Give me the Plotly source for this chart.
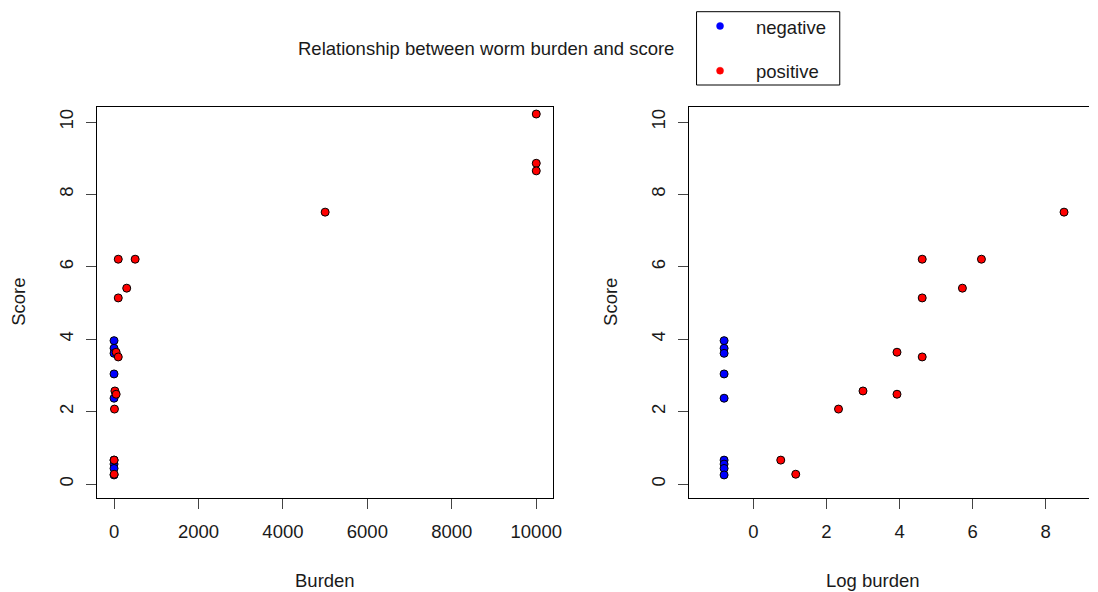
import plotly.graph_objects as go

W, H = 1098, 592

# ---- data ----
neg_burden = [0, 0, 0, 0, 0, 0, 0, 0, 0]
neg_log_burden = [-0.8, -0.8, -0.8, -0.8, -0.8, -0.8, -0.8, -0.8, -0.8]
neg_score = [3.96, 3.75, 3.61, 3.04, 2.37, 0.66, 0.55, 0.43, 0.25]

pos_burden = [2, 3, 10, 20, 50, 50, 100, 100, 100, 300, 500, 5000, 10000, 10000, 10000]
pos_log_burden = [0.75, 1.16, 2.33, 3.0, 3.93, 3.93, 4.62, 4.62, 4.62, 5.72, 6.24, 8.5, 9.21, 9.21, 9.21]
pos_score = [0.66, 0.27, 2.07, 2.57, 2.48, 3.64, 3.51, 5.14, 6.21, 5.41, 6.21, 7.51, 10.22, 8.86, 8.65]

x1_ticks = [0, 2000, 4000, 6000, 8000, 10000]
x2_ticks = [0, 2, 4, 6, 8]
y_ticks = [0, 2, 4, 6, 8, 10]

title_text = "Relationship between worm burden and score"
legend_labels = ["negative", "positive"]
colors = {"negative": "#0000FF", "positive": "#FF0000"}

FONT = "Liberation Sans, Arial, sans-serif"
FS = 18.5
TXT = "#1a1a1a"


def px(x):
    return x / W


def py(y):
    return 1 - y / H


def marker(c):
    return dict(color=c, size=8, line=dict(color="black", width=1))


fig = go.Figure()
fig.add_trace(go.Scatter(x=neg_burden, y=neg_score, mode="markers", marker=marker(colors["negative"]),
                         xaxis="x", yaxis="y", cliponaxis=False, showlegend=False))
fig.add_trace(go.Scatter(x=pos_burden, y=pos_score, mode="markers", marker=marker(colors["positive"]),
                         xaxis="x", yaxis="y", cliponaxis=False, showlegend=False))
fig.add_trace(go.Scatter(x=neg_log_burden, y=neg_score, mode="markers", marker=marker(colors["negative"]),
                         xaxis="x2", yaxis="y2", cliponaxis=False, showlegend=False))
fig.add_trace(go.Scatter(x=pos_log_burden, y=pos_score, mode="markers", marker=marker(colors["positive"]),
                         xaxis="x2", yaxis="y2", cliponaxis=False, showlegend=False))

ax_common = dict(showgrid=False, zeroline=False, showline=True, linecolor="black", linewidth=1,
                 ticks="outside", ticklen=10, tickcolor="#444", tickwidth=1,
                 tickfont=dict(family=FONT, size=FS, color=TXT))

ydom = [py(498.3), py(107.3)]
yrange = [-0.395, 10.406]

fig.update_layout(
    width=W, height=H,
    margin=dict(l=0, r=0, t=0, b=0),
    paper_bgcolor="white", plot_bgcolor="white",
    showlegend=False,
    xaxis=dict(domain=[px(98.3), px(557.3)], range=[-392, 10390], tickvals=x1_ticks,
               tickformat="d", mirror=True, anchor="y", ticklabelstandoff=6, **ax_common),
    yaxis=dict(domain=ydom, range=yrange, tickvals=y_ticks, tickangle=-90,
               mirror=True, anchor="x", ticklabelstandoff=6, **ax_common),
    xaxis2=dict(domain=[px(694.7), 1.0], range=[-1.76, 9.183], tickvals=x2_ticks,
                mirror=True, anchor="y2", ticklabelstandoff=6, **ax_common),
    yaxis2=dict(domain=ydom, range=yrange, tickvals=y_ticks, tickangle=-90,
                mirror=False, anchor="x2", ticklabelstandoff=6, **ax_common),
)

ann = []
ann.append(dict(text=title_text, x=px(490), y=py(48), xref="paper", yref="paper",
                showarrow=False, xanchor="center", yanchor="middle",
                font=dict(family=FONT, size=FS, color=TXT)))
for t, (xx, yy) in zip(["Burden", "Log burden"], [(328, 580), (880, 580)]):
    ann.append(dict(text=t, x=px(xx), y=py(yy), xref="paper", yref="paper", showarrow=False,
                    xanchor="center", yanchor="middle", font=dict(family=FONT, size=FS, color=TXT)))
for xx in (18, 615):
    ann.append(dict(text="Score", x=px(xx), y=py(302), xref="paper", yref="paper", showarrow=False,
                    textangle=-90, xanchor="center", yanchor="middle",
                    font=dict(family=FONT, size=FS, color=TXT)))
# legend
for lab, yy in zip(legend_labels, (28, 72)):
    ann.append(dict(text=lab, x=px(760), y=py(yy), xref="paper", yref="paper", showarrow=False,
                    xanchor="left", yanchor="middle", font=dict(family=FONT, size=FS, color=TXT)))

shapes = [dict(type="rect", xref="paper", yref="paper", x0=px(702.3), x1=px(846.7),
               y0=py(85), y1=py(11.7), line=dict(color="black", width=1), fillcolor="rgba(0,0,0,0)")]
for lab, yy in zip(legend_labels, (26, 70.7)):
    shapes.append(dict(type="circle", xref="paper", yref="paper", xsizemode="pixel", ysizemode="pixel",
                       xanchor=px(726), yanchor=py(yy), x0=-3.5, x1=3.5, y0=-3.5, y1=3.5,
                       fillcolor=colors[lab], line=dict(color=colors[lab], width=0.5)))

fig.update_layout(annotations=ann, shapes=shapes)
fig.write_html("out.html")
